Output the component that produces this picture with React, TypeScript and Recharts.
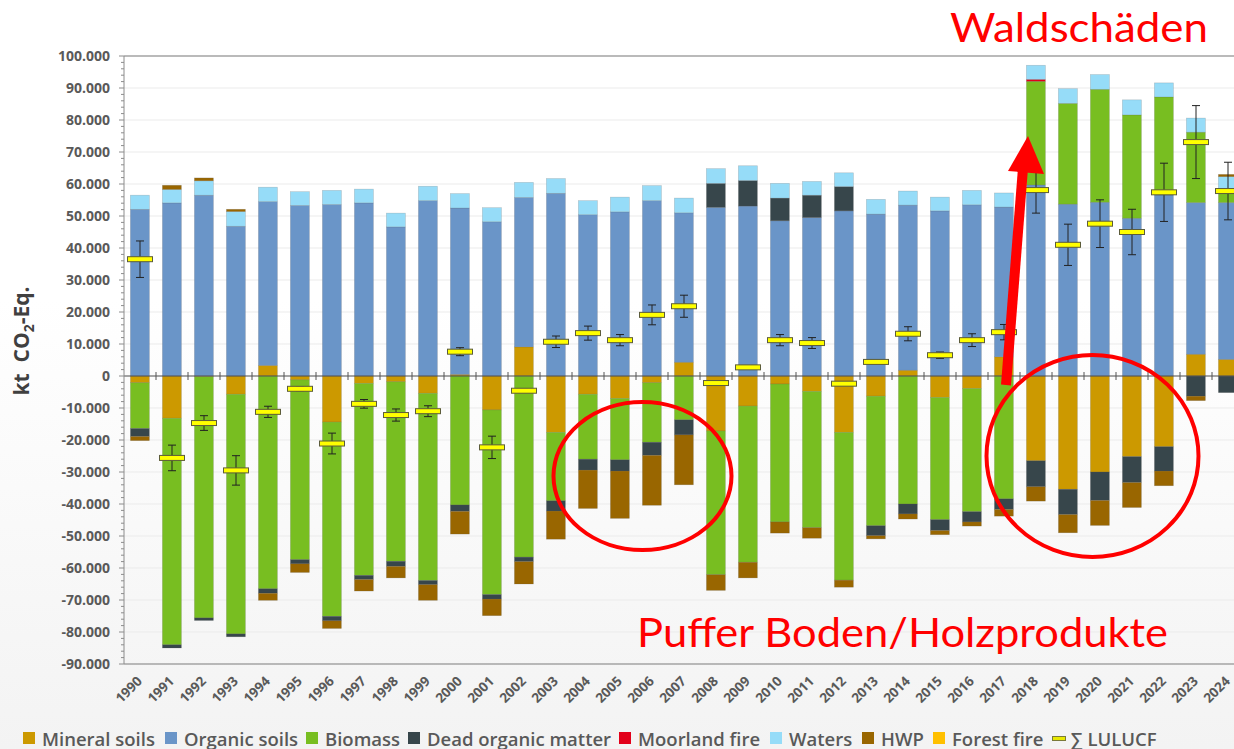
import React from "react";
import {
  ComposedChart,
  Bar,
  XAxis,
  YAxis,
  CartesianGrid,
  ReferenceLine,
  Scatter,
  ErrorBar,
} from "recharts";

// LULUCF emissions/removals by category, kt CO2-Eq.
const YEARS = [
  "1990", "1991", "1992", "1993", "1994", "1995", "1996", "1997", "1998", "1999",
  "2000", "2001", "2002", "2003", "2004", "2005", "2006", "2007", "2008", "2009",
  "2010", "2011", "2012", "2013", "2014", "2015", "2016", "2017", "2018", "2019",
  "2020", "2021", "2022", "2023", "2024",
];

const MINERAL = [
  -2100, -13200, -200, -5700, 3300, -1200, -14400, -2300, -1800, -5400,
  500, -10600, 9100, -17600, -5700, -7000, -2100, 4300, -17200, -9400,
  -2500, -4800, -17600, -6300, 1800, -6700, -3900, 6000, -26500, -35400,
  -30000, -25200, -22100, 6800, 5200,
];
const ORGANIC = [
  52100, 54100, 56500, 46800, 51200, 53300, 53600, 54100, 46600, 54800,
  52000, 48200, 46700, 57100, 50400, 51300, 54800, 46700, 52700, 53100,
  48500, 49500, 51600, 50600, 51600, 51600, 53500, 46800, 59700, 53700,
  54300, 49300, 56600, 47400, 49000,
];
const BIOMASS = [
  -14300, -70800, -75400, -74900, -66500, -56200, -60700, -60000, -56100, -58500,
  -40300, -57700, -56600, -21400, -20300, -19200, -18600, -13700, -44900, -48800,
  -43100, -42600, -46200, -40500, -40000, -38200, -38500, -38400, 32400, 31500,
  35300, 32300, 30600, 22000, 3700,
];
const DEAD_OM = [
  -2500, -1000, -800, -900, -1400, -1300, -1400, -1300, -1600, -1300,
  -2000, -1400, -1400, -3200, -3400, -3500, -4100, -4700, 7500, 8000,
  7100, 7000, 7600, -3100, -3100, -3400, -3200, -3300, -8100, -7900,
  -8900, -8100, -7600, -6300, -5200,
];
const MOORLAND_FIRE = [
  0, 0, 0, 0, 0, 0, 0, 0, 0, 0,
  0, 0, 0, 0, 0, 0, 0, 0, 0, 0,
  0, 0, 0, 0, 0, 0, 0, 0, 600, 0,
  0, 0, 0, 0, 0,
];
const WATERS = [
  4400, 4200, 4500, 4600, 4500, 4300, 4400, 4300, 4300, 4500,
  4500, 4400, 4700, 4600, 4400, 4600, 4700, 4600, 4600, 4600,
  4600, 4300, 4300, 4600, 4400, 4300, 4500, 4400, 4400, 4600,
  4600, 4700, 4400, 4400, 4400,
];
const HWP = [
  -1300, 1300, 900, 700, -2200, -2700, -2400, -3600, -3600, -4900,
  -7100, -5200, -7000, -8800, -12000, -14800, -15600, -15600, -4900, -4900,
  -3500, -3300, -2200, -1000, -1600, -1300, -1300, -2100, -4500, -5700,
  -7800, -7800, -4600, -1400, 700,
];
const FOREST_FIRE = [
  0, 0, 0, 0, 0, 0, 0, 0, 0, 0,
  0, 0, 0, 0, 0, 0, 0, 0, 0, 0,
  0, 0, 0, 0, 0, 0, 0, 0, 0, 0,
  0, 0, 0, 0, 0,
];
const LULUCF = [
  36500, -25600, -14700, -29500, -11200, -4000, -21100, -8700, -12200, -11000,
  7600, -22300, -4600, 10700, 13400, 11200, 19100, 21800, -2200, 2700,
  11200, 10300, -2400, 4400, 13200, 6500, 11200, 13700, 58100, 41000,
  47600, 45000, 57400, 73100, 57800,
];
const LULUCF_ERR = [
  5700, 4000, 2300, 4600, 1750, 600, 3250, 1350, 1900, 1700,
  1250, 3500, 500, 1800, 2200, 1750, 3100, 3450, 0, 0,
  1750, 1700, 0, 0, 2200, 1000, 2000, 2400, 7200, 6450,
  7450, 7100, 9100, 11400, 9000,
];

const MAJOR_TICKS = [
  -90000, -80000, -70000, -60000, -50000, -40000, -30000, -20000, -10000, 0,
  10000, 20000, 30000, 40000, 50000, 60000, 70000, 80000, 90000, 100000,
];

const SERIES = [
  { key: "mineral", name: "Mineral soils", color: "#CC9900" },
  { key: "organic", name: "Organic soils", color: "#6A95C8" },
  { key: "biomass", name: "Biomass", color: "#78BE21" },
  { key: "deadOm", name: "Dead organic matter", color: "#37464B" },
  { key: "moorland", name: "Moorland fire", color: "#E2001A" },
  { key: "waters", name: "Waters", color: "#96DCF8" },
  { key: "hwp", name: "HWP", color: "#996600" },
  { key: "forestFire", name: "Forest fire", color: "#FFC000" },
];

// left edge of each legend entry (px)
const LEGEND_X = [23, 165, 306, 408, 619, 770, 862, 933];

const data = YEARS.map((year, i) => ({
  year,
  mineral: MINERAL[i],
  organic: ORGANIC[i],
  biomass: BIOMASS[i],
  deadOm: DEAD_OM[i],
  moorland: MOORLAND_FIRE[i],
  waters: WATERS[i],
  hwp: HWP[i],
  forestFire: FOREST_FIRE[i],
  lulucf: LULUCF[i],
  lulucfErr: LULUCF_ERR[i],
}));

const minorTicks: number[] = [];
for (let v = -90000; v <= 100000; v += 2000) minorTicks.push(v);

const FONT = "'Open Sans', 'DejaVu Sans', sans-serif";
const NOTE_FONT = "Lato, 'Open Sans', sans-serif";
const GRAY = "#595959";

function fmt(v: number) {
  const s = String(Math.abs(v)).replace(/\B(?=(\d{3})+(?!\d))/g, ".");
  return v < 0 ? "-" + s : s;
}

function YTick(props: any) {
  const { x, y, payload } = props;
  const v = payload.value;
  const major = v % 10000 === 0;
  return (
    <g>
      <line x1={x - (major ? 5 : 3)} x2={x} y1={y} y2={y} stroke="#8c8c8c" strokeWidth={1} />
      {major && (
        <text
          x={x - 14}
          y={y}
          dy="0.36em"
          textAnchor="end"
          fontFamily={FONT}
          fontSize={14}
          fontWeight={700}
          fill={GRAY}
        >
          {fmt(v)}
        </text>
      )}
    </g>
  );
}

function XTick(props: any) {
  const { x, y, payload } = props;
  const tx = x + 3;
  const ty = y + 18;
  return (
    <text
      x={tx}
      y={ty}
      transform={`rotate(-45 ${tx} ${ty})`}
      textAnchor="end"
      fontFamily={FONT}
      fontSize={13.5}
      fontWeight={700}
      fill={GRAY}
    >
      {payload.value}
    </text>
  );
}

// skip empty segments so they leave no line behind
function BarSegment(props: any) {
  const { x, y, width, height, fill } = props;
  if (!height || Math.abs(height) < 0.5) return <g />;
  const top = height < 0 ? y + height : y;
  return (
    <rect
      x={x}
      y={top}
      width={width}
      height={Math.abs(height)}
      fill={fill}
      stroke="rgba(90,90,90,0.3)"
      strokeWidth={0.6}
    />
  );
}

function ZeroLine(props: any) {
  const { x1, x2, y1 } = props;
  if (x1 == null || x2 == null) return null;
  const step = (x2 - x1) / YEARS.length;
  return (
    <g>
      <line x1={x1} x2={x2} y1={y1} y2={y1} stroke="#555" strokeWidth={1.2} />
      {YEARS.map((_, i) =>
        i === 0 ? null : (
          <line key={i} x1={x1 + i * step} x2={x1 + i * step} y1={y1 - 4} y2={y1 + 4} stroke="#555" strokeWidth={1} />
        )
      )}
    </g>
  );
}

function LulucfMarker(props: any) {
  const { cx, cy } = props;
  if (cx == null || cy == null) return null;
  return (
    <rect x={cx - 12.5} y={cy - 2.5} width={25} height={5} fill="#FFFF00" stroke="#5c5c3a" strokeWidth={1} />
  );
}

export default function App() {
  return (
    <div
      style={{
        position: "fixed",
        left: 0,
        top: 0,
        width: 1234,
        height: 749,
        overflow: "hidden",
        background: "linear-gradient(to bottom, #ffffff 0%, #ffffff 40%, #f3f3f3 100%)",
        fontFamily: FONT,
      }}
    >
      <ComposedChart
        width={1250}
        height={749}
        data={data}
        stackOffset="sign"
        barCategoryGap="20%"
        margin={{ top: 56, right: 6, bottom: 0, left: 0 }}
      >
        <CartesianGrid vertical={false} horizontalValues={MAJOR_TICKS} stroke="#ebebeb" />
        <XAxis
          dataKey="year"
          interval={0}
          height={85}
          tickSize={0}
          tickMargin={0}
          tickLine={false}
          axisLine={{ stroke: "#a6a6a6", strokeWidth: 1.5 }}
          tick={<XTick />}
        />
        <YAxis
          width={124}
          domain={[-90000, 100000]}
          ticks={minorTicks}
          interval={0}
          tickSize={0}
          tickMargin={0}
          tickLine={false}
          axisLine={{ stroke: "#8c8c8c" }}
          tick={<YTick />}
        />
        {SERIES.map((s) => (
          <Bar
            key={s.key}
            dataKey={s.key}
            name={s.name}
            stackId="a"
            fill={s.color}
            shape={<BarSegment />}
            isAnimationActive={false}
          />
        ))}
        <ReferenceLine y={100000} stroke="#a6a6a6" strokeWidth={1.5} />
        <ReferenceLine y={0} shape={<ZeroLine />} />
        <Scatter dataKey="lulucf" name="∑ LULUCF" shape={<LulucfMarker />} isAnimationActive={false}>
          <ErrorBar dataKey="lulucfErr" direction="y" width={4} stroke="#222" strokeWidth={1} />
        </Scatter>
      </ComposedChart>

      {SERIES.map((s, i) => (
        <div
          key={s.key}
          style={{
            position: "absolute",
            left: LEGEND_X[i],
            top: 727,
            height: 22,
            display: "flex",
            alignItems: "center",
            gap: 7,
            fontSize: 18.5,
            fontWeight: 600,
            color: GRAY,
            whiteSpace: "nowrap",
          }}
        >
          <span style={{ width: 12, height: 12, background: s.color, display: "inline-block" }} />
          <span>{s.name}</span>
        </div>
      ))}
      <div
        style={{
          position: "absolute",
          left: 1052,
          top: 727,
          height: 22,
          display: "flex",
          alignItems: "center",
          gap: 5,
          fontSize: 18.5,
          fontWeight: 600,
          color: GRAY,
          whiteSpace: "nowrap",
        }}
      >
        <span style={{ width: 12, height: 3, background: "#e8e800", border: "1px solid #7a7a3a", display: "inline-block" }} />
        <span>∑ LULUCF</span>
      </div>

      <svg
        width={1234}
        height={749}
        style={{ position: "absolute", left: 0, top: 0, pointerEvents: "none" }}
      >
        <text
          transform="translate(29,341) rotate(-90)"
          textAnchor="middle"
          fontFamily={FONT}
          fontSize={21}
          fontWeight={700}
          fill="#404040"
        >
          {"kt\u00a0\u00a0CO"}
          <tspan dy={5} fontSize={14}>2</tspan>
          <tspan dy={-5}>-Eq.</tspan>
        </text>

        <ellipse cx={642.5} cy={476} rx={89} ry={74} fill="none" stroke="#FF0000" strokeWidth={4} />
        <ellipse cx={1092.5} cy={456} rx={106} ry={101} fill="none" stroke="#FF0000" strokeWidth={4} />
        <line x1={1006} y1={385} x2={1023} y2={168} stroke="#FF0000" strokeWidth={10} />
        <polygon points="1028,136 1008,171 1044,174" fill="#FF0000" />

        <text
          x={950}
          y={42}
          fontFamily={NOTE_FONT}
          fontSize={40}
          fill="#FF0000"
          textLength={258}
          lengthAdjust="spacingAndGlyphs"
        >
          Waldschäden
        </text>
        <text
          x={637}
          y={647}
          fontFamily={NOTE_FONT}
          fontSize={40}
          fill="#FF0000"
          textLength={531}
          lengthAdjust="spacingAndGlyphs"
        >
          Puffer Boden/Holzprodukte
        </text>
      </svg>
    </div>
  );
}
